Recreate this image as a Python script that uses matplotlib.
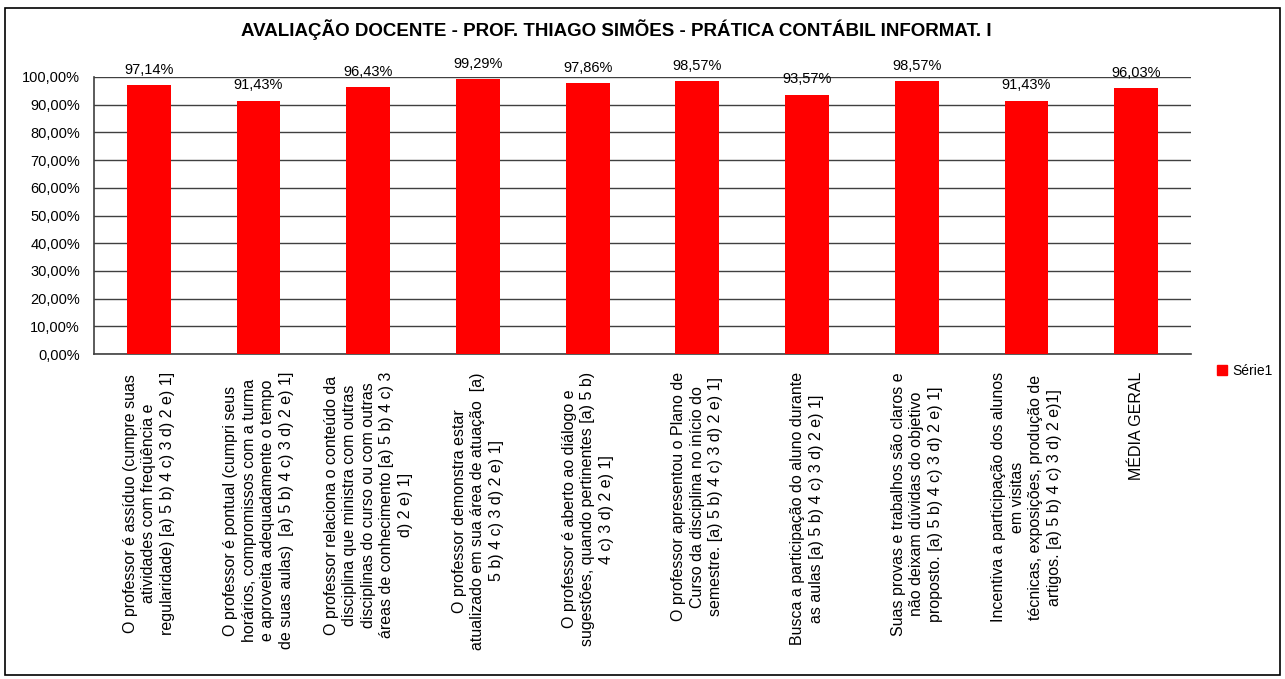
import matplotlib
matplotlib.use("Agg")
import matplotlib.pyplot as plt
from matplotlib.patches import Rectangle, Patch
from matplotlib.ticker import FuncFormatter

# data
labels = [
    "O professor é assíduo (cumpre suas\natividades com freqüência e\nregularidade) [a) 5 b) 4 c) 3 d) 2 e) 1]",
    "O professor é pontual (cumpri seus\nhorários, compromissos com a turma\ne aproveita adequadamente o tempo\nde suas aulas)  [a) 5 b) 4 c) 3 d) 2 e) 1]",
    "O professor relaciona o conteúdo da\ndisciplina que ministra com outras\ndisciplinas do curso ou com outras\náreas de conhecimento [a) 5 b) 4 c) 3\nd) 2 e) 1]",
    "O professor demonstra estar\natualizado em sua área de atuação  [a)\n5 b) 4 c) 3 d) 2 e) 1]",
    "O professor é aberto ao diálogo e\nsugestões, quando pertinentes [a) 5 b)\n4 c) 3 d) 2 e) 1]",
    "O professor apresentou o Plano de\nCurso da disciplina no início do\nsemestre. [a) 5 b) 4 c) 3 d) 2 e) 1]",
    "Busca a participação do aluno durante\nas aulas [a) 5 b) 4 c) 3 d) 2 e) 1]",
    "Suas provas e trabalhos são claros e\nnão deixam dúvidas do objetivo\nproposto. [a) 5 b) 4 c) 3 d) 2 e) 1]",
    "Incentiva a participação dos alunos\nem visitas\ntécnicas, exposições, produção de\nartigos. [a) 5 b) 4 c) 3 d) 2 e)1]",
    "MÉDIA GERAL",
]
values = [97.14, 91.43, 96.43, 99.29, 97.86, 98.57, 93.57, 98.57, 91.43, 96.03]
yticks = [0, 10, 20, 30, 40, 50, 60, 70, 80, 90, 100]
title = "AVALIAÇÃO DOCENTE - PROF. THIAGO SIMÕES - PRÁTICA CONTÁBIL INFORMAT. I"
series_name = "Série1"

plt.rcParams['font.family'] = ['Liberation Sans', 'DejaVu Sans']

fig = plt.figure(figsize=(12.85, 6.79), dpi=100)
fig.patches.append(Rectangle((0.004, 0.006), 0.992, 0.982, transform=fig.transFigure,
                             fill=False, edgecolor='black', linewidth=1.2))

ax = fig.add_axes([94 / 1285, 1 - 354 / 679, (1191 - 94) / 1285, (354 - 77) / 679])
x = range(len(values))
ax.bar(x, values, width=0.4, color='#ff0000', zorder=3)

ax.set_xlim(-0.5, len(values) - 0.5)
ax.set_ylim(0, 100)
ax.set_yticks(yticks)
ax.yaxis.set_major_formatter(FuncFormatter(lambda v, p: "{:.2f}%".format(v).replace(".", ",")))
ax.tick_params(axis='y', labelsize=10.5, length=0, pad=10)
ax.grid(axis='y', color='#404040', linewidth=1, zorder=0)
ax.set_xticks([])
for side in ['top', 'right']:
    ax.spines[side].set_visible(False)
for side in ['left', 'bottom']:
    ax.spines[side].set_color('#404040')
    ax.spines[side].set_linewidth(1.2)

for i, v in enumerate(values):
    ax.annotate("{:.2f}%".format(v).replace(".", ","), (i, v), xytext=(0, 6),
                textcoords='offset points', ha='center', va='bottom', fontsize=10.5)

for i, lab in enumerate(labels):
    ax.annotate(lab, (i, 0), xytext=(0, -13), textcoords='offset points',
                rotation=90, ha='center', va='top', multialignment='center',
                fontsize=11.5, linespacing=1.3)

fig.text(616 / 1285, 1 - 30 / 679, title, ha='center', va='center',
         fontsize=13.5, fontweight='bold')

fig.legend(handles=[Patch(color='#ff0000', label=series_name)],
           loc='center left', bbox_to_anchor=(1210 / 1285, 1 - 371 / 679),
           frameon=False, fontsize=10, handlelength=0.7, handleheight=0.7,
           handletextpad=0.4, borderpad=0)

fig.savefig("out.png", dpi=100)
